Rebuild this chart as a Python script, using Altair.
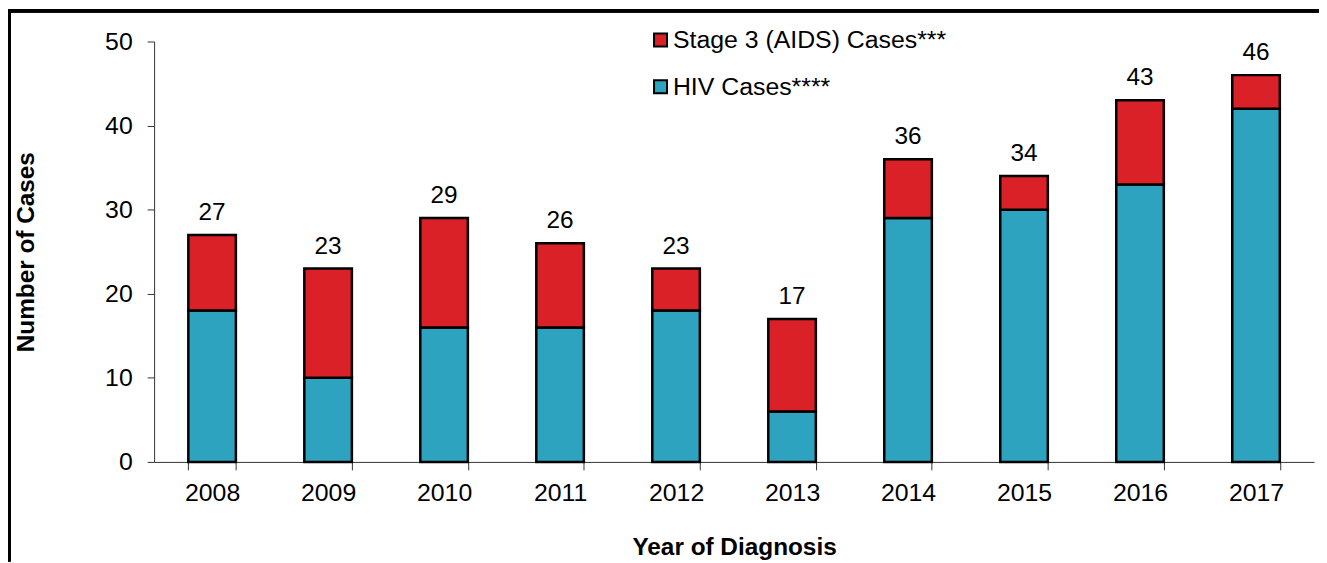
import altair as alt
import pandas as pd

years = ["2008", "2009", "2010", "2011", "2012", "2013", "2014", "2015", "2016", "2017"]
hiv_cases = [18, 10, 16, 16, 18, 6, 29, 30, 33, 42]
stage3_cases = [9, 13, 13, 10, 5, 11, 7, 4, 10, 4]
series_names = ["Stage 3 (AIDS) Cases***", "HIV Cases****"]
series_colors = ["#DA2128", "#2EA3BF"]

rows = []
for y, h, s in zip(years, hiv_cases, stage3_cases):
    rows.append({"year": y, "series": series_names[1], "value": h, "ord": 0})
    rows.append({"year": y, "series": series_names[0], "value": s, "ord": 1})
df = pd.DataFrame(rows)
tot = pd.DataFrame({"year": years, "total": [h + s for h, s in zip(hiv_cases, stage3_cases)]})

FONT = "Liberation Sans"
FS = 25
W, H = 1167, 423

x_enc = alt.X("year:N", sort=years, title="Year of Diagnosis",
              scale=alt.Scale(paddingInner=0.59, paddingOuter=0.295),
              axis=alt.Axis(labelAngle=0, tickBand="extent", tickSize=8,
                            labelPadding=11, titlePadding=30,
                            domainColor="#333", tickColor="#333"))

bars = alt.Chart(df).mark_bar(stroke="black", strokeWidth=2.5).encode(
    x=x_enc,
    y=alt.Y("value:Q", stack="zero", title="Number of Cases",
            scale=alt.Scale(domain=[0, 50]),
            axis=alt.Axis(values=[0, 10, 20, 30, 40, 50], tickSize=7, labelPadding=15,
                          grid=False, titlePadding=67,
                          domainColor="#333", tickColor="#333")),
    color=alt.Color("series:N", scale=alt.Scale(domain=series_names, range=series_colors),
                    legend=alt.Legend(title=None, orient="none", legendX=497, legendY=-14,
                                      symbolType="square", symbolSize=170,
                                      symbolStrokeColor="black", symbolStrokeWidth=2,
                                      labelFontSize=FS, labelFont=FONT, rowPadding=21,
                                      labelOffset=0, labelColor="black", labelLimit=0)),
    order=alt.Order("ord:Q"),
)

labels = alt.Chart(tot).mark_text(baseline="alphabetic", dy=-15, fontSize=24.5, font=FONT, color="black").encode(
    x=alt.X("year:N", sort=years),
    y=alt.Y("total:Q"),
    text=alt.Text("total:Q"),
)

top_line = alt.Chart(tot).mark_rule(color="black", strokeWidth=3).encode(
    x=alt.value(-150), x2=alt.value(W + 10), y=alt.value(-31)
)
left_line = alt.Chart(tot).mark_rule(color="black", strokeWidth=3).encode(
    x=alt.value(-146), y=alt.value(-32), y2=alt.value(H + 100)
)

chart = alt.layer(bars, labels, top_line, left_line).properties(
    width=W, height=H,
    autosize=alt.AutoSizeParams(type="none"),
    padding={"left": 147, "top": 32, "right": 5, "bottom": 100},
).configure_view(stroke=None).configure_axis(
    labelFont=FONT, titleFont=FONT, labelFontSize=FS, titleFontSize=24.5,
    titleFontWeight="bold", labelColor="black", titleColor="black",
)

chart.save("out.html", embed_options={"renderer": "svg", "actions": False})
